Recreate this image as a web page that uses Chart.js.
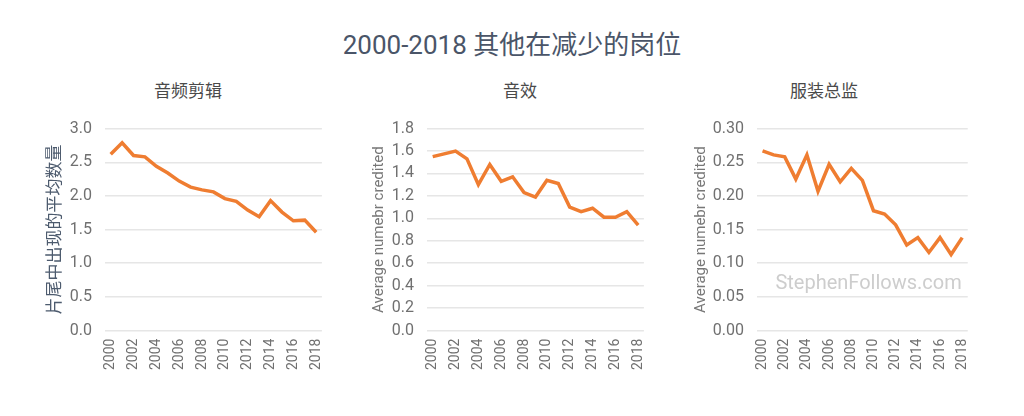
<!DOCTYPE html>
<html>
<head>
<meta charset="utf-8">
<script src="https://cdn.jsdelivr.net/npm/chart.js@4.4.1/dist/chart.umd.min.js"></script>
<style>
  body { margin: 0; background: #fff; width: 1024px; height: 416px; overflow: hidden; }
  #title { position: absolute; left: 0; top: 24px; width: 1024px; text-align: center;
           font: 26px Roboto, "Noto Sans CJK SC", sans-serif; color: #4a5568; }
  .sub { position: absolute; top: 79px; width: 200px; margin-left: -100px; text-align: center;
         font: 17px "Noto Sans CJK SC", sans-serif; color: #4a4a4a; line-height: 22px; }
  .box { position: absolute; top: 106px; height: 272px; }
</style>
</head>
<body>
<div id="title">2000-2018 其他在减少的岗位</div>
<div class="sub" id="s1" style="left:188px"></div>
<div class="sub" id="s2" style="left:520px"></div>
<div class="sub" id="s3" style="left:824px"></div>
<div class="box" style="left:40px;width:301px"><canvas id="c1"></canvas></div>
<div class="box" style="left:369px;width:294px"><canvas id="c2"></canvas></div>
<div class="box" style="left:691px;width:296px"><canvas id="c3"></canvas></div>
<script>
// years on the x axis
var years = ['2000','2001','2002','2003','2004','2005','2006','2007','2008','2009',
             '2010','2011','2012','2013','2014','2015','2016','2017','2018'];

// 音频剪辑
var soundEditing = [2.62, 2.79, 2.60, 2.58, 2.44, 2.34, 2.22, 2.13, 2.09, 2.06,
                    1.96, 1.92, 1.79, 1.69, 1.93, 1.76, 1.63, 1.64, 1.46];
// 音效
var soundEffects = [1.55, 1.575, 1.60, 1.53, 1.30, 1.48, 1.33, 1.37, 1.23, 1.19,
                    1.34, 1.31, 1.10, 1.06, 1.09, 1.01, 1.01, 1.06, 0.94];
// 服装总监
var costumeSupervisor = [0.267, 0.261, 0.258, 0.225, 0.261, 0.207, 0.247, 0.221, 0.241, 0.223,
                         0.178, 0.173, 0.157, 0.127, 0.138, 0.116, 0.138, 0.113, 0.138];

var panelTitles = ['音频剪辑', '音效', '服装总监'];
var yTitles = ['片尾中出现的平均数量', 'Average numebr credited', 'Average numebr credited'];

document.getElementById('s1').textContent = panelTitles[0];
document.getElementById('s2').textContent = panelTitles[1];
document.getElementById('s3').textContent = panelTitles[2];

var watermark = {
  id: 'watermark',
  afterDatasetsDraw: function(chart) {
    if (!chart.options.plugins.watermark || !chart.options.plugins.watermark.text) return;
    var ctx = chart.ctx, a = chart.chartArea;
    ctx.save();
    ctx.font = '20px Roboto';
    ctx.fillStyle = '#cdcdcd';
    ctx.textAlign = 'right';
    ctx.textBaseline = 'middle';
    ctx.fillText(chart.options.plugins.watermark.text, a.right - 6, a.top + 0.77 * (a.bottom - a.top));
    ctx.restore();
  }
};

function makeChart(id, values, yTitle, yTitleFont, yTitleColor, titleShift, axisWidth, max, step, decimals, mark) {
  return new Chart(document.getElementById(id), {
    type: 'line',
    data: {
      labels: years,
      datasets: [{
        data: values,
        borderColor: '#ef7d31',
        borderWidth: 3.5,
        pointRadius: 0,
        tension: 0,
        fill: false
      }]
    },
    options: {
      responsive: true,
      maintainAspectRatio: false,
      animation: false,
      layout: { padding: { top: 4 } },
      plugins: {
        legend: { display: false },
        tooltip: { enabled: false },
        watermark: { text: mark }
      },
      scales: {
        x: {
          offset: true,
          grid: { display: false, drawTicks: false },
          border: { display: false },
          ticks: {
            autoSkip: false,
            minRotation: 90,
            maxRotation: 90,
            color: '#707070',
            font: { family: 'Roboto', size: 14 },
            padding: 8,
            callback: function(v, i) { return i % 2 === 0 ? years[i] : ''; }
          }
        },
        y: {
          min: 0,
          max: max,
          afterFit: function(scale) { scale.width = axisWidth; },
          grid: { color: '#e6e6e6', lineWidth: 1.5, drawTicks: false },
          border: { display: false },
          title: {
            display: true,
            text: yTitle,
            color: yTitleColor,
            font: yTitleFont,
            padding: { top: titleShift, bottom: 0 }
          },
          ticks: {
            autoSkip: false,
            stepSize: step,
            color: '#707070',
            font: { family: 'Roboto', size: 16 },
            padding: 13,
            callback: function(v) { return Number(v).toFixed(decimals); }
          }
        }
      }
    },
    plugins: [watermark]
  });
}

makeChart('c1', soundEditing, yTitles[0],
  { family: '"Noto Sans CJK SC"', size: 17 }, '#4d5b6e', 3, 65, 3.0, 0.5, 1, '');
makeChart('c2', soundEffects, yTitles[1],
  { family: 'Roboto', size: 15 }, '#777', 1, 58, 1.8, 0.2, 1, '');
makeChart('c3', costumeSupervisor, yTitles[2],
  { family: 'Roboto', size: 15 }, '#777', 1, 66, 0.30, 0.05, 2, 'StephenFollows.com');
</script>
</body>
</html>
